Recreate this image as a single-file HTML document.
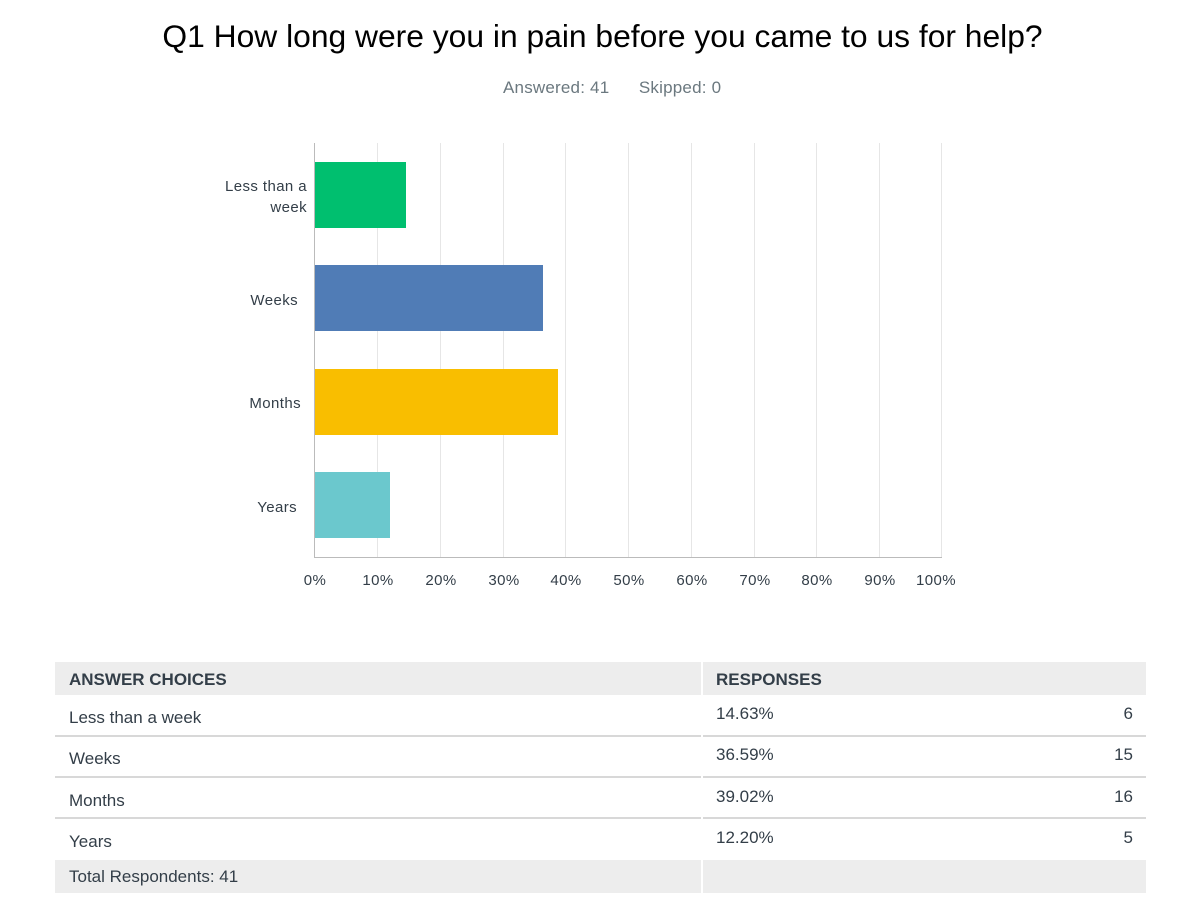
<!DOCTYPE html>
<html><head><meta charset="utf-8"><style>
body{margin:0;width:1200px;height:923px;background:#fff;font-family:"Liberation Sans",sans-serif;position:relative;overflow:hidden;color:#333e48}
.a{position:absolute}
.t{white-space:nowrap}
</style></head><body>
<div class="a t" style="left:0;width:1205px;top:18px;text-align:center;font-size:31.8px;color:#000">Q1 How long were you in pain before you came to us for help?</div>
<div class="a t" style="left:503px;top:78px;font-size:17px;color:#6b787f;letter-spacing:0.2px">Answered: 41&nbsp;&nbsp;&nbsp;&nbsp;&nbsp;&nbsp;Skipped: 0</div>
<svg class="a" style="left:0;top:0" width="1200" height="600">
<g stroke="#e6e6e6" stroke-width="1">
<line x1="377.5" y1="143" x2="377.5" y2="557"/><line x1="440.5" y1="143" x2="440.5" y2="557"/><line x1="503.5" y1="143" x2="503.5" y2="557"/><line x1="565.5" y1="143" x2="565.5" y2="557"/><line x1="628.5" y1="143" x2="628.5" y2="557"/><line x1="691.5" y1="143" x2="691.5" y2="557"/><line x1="754.5" y1="143" x2="754.5" y2="557"/><line x1="816.5" y1="143" x2="816.5" y2="557"/><line x1="879.5" y1="143" x2="879.5" y2="557"/><line x1="941.5" y1="143" x2="941.5" y2="557"/>
</g>
<line x1="314.5" y1="143" x2="314.5" y2="558" stroke="#bbb"/>
<line x1="314" y1="557.5" x2="942" y2="557.5" stroke="#bbb"/>
<rect x="315" y="162" width="91" height="66" fill="#00bf6f"/>
<rect x="315" y="265" width="228" height="66" fill="#507cb6"/>
<rect x="315" y="369" width="243" height="66" fill="#f9be00"/>
<rect x="315" y="472" width="75" height="66" fill="#6bc8cd"/>
<g font-family="Liberation Sans, sans-serif" font-size="15" fill="#333e48" text-anchor="end" letter-spacing="0.4">
<text x="307" y="191">Less than a</text><text x="307" y="212">week</text>
<text x="298" y="305">Weeks</text><text x="301" y="408">Months</text><text x="297" y="512">Years</text>
</g>
<g font-family="Liberation Sans, sans-serif" font-size="15" fill="#333e48" text-anchor="middle" letter-spacing="0.4">
<text x="315" y="585">0%</text><text x="378" y="585">10%</text><text x="441" y="585">20%</text><text x="504" y="585">30%</text><text x="566" y="585">40%</text><text x="629" y="585">50%</text><text x="692" y="585">60%</text><text x="755" y="585">70%</text><text x="817" y="585">80%</text><text x="880" y="585">90%</text><text x="936" y="585">100%</text>
</g>
</svg>
<div class="a" style="left:55px;top:662px;width:646px;height:33px;background:#ededed"></div>
<div class="a" style="left:703px;top:662px;width:443px;height:33px;background:#ededed"></div>
<div class="a t" style="left:69px;top:670px;font-size:17px;font-weight:bold">ANSWER CHOICES</div>
<div class="a t" style="left:716px;top:670px;font-size:17px;font-weight:bold">RESPONSES</div>
<div class="a" style="left:55px;top:735px;width:646px;height:2px;background:#d8d8d8"></div><div class="a" style="left:703px;top:735px;width:443px;height:2px;background:#d8d8d8"></div>
<div class="a" style="left:55px;top:776px;width:646px;height:2px;background:#d8d8d8"></div><div class="a" style="left:703px;top:776px;width:443px;height:2px;background:#d8d8d8"></div>
<div class="a" style="left:55px;top:817px;width:646px;height:2px;background:#d8d8d8"></div><div class="a" style="left:703px;top:817px;width:443px;height:2px;background:#d8d8d8"></div>
<div class="a t" style="left:69px;top:708px;font-size:17px">Less than a week</div>
<div class="a t" style="left:69px;top:749px;font-size:17px">Weeks</div>
<div class="a t" style="left:69px;top:791px;font-size:17px">Months</div>
<div class="a t" style="left:69px;top:832px;font-size:17px">Years</div>
<div class="a t" style="left:716px;top:704px;font-size:17px">14.63%</div>
<div class="a t" style="left:716px;top:745px;font-size:17px">36.59%</div>
<div class="a t" style="left:716px;top:787px;font-size:17px">39.02%</div>
<div class="a t" style="left:716px;top:828px;font-size:17px">12.20%</div>
<div class="a t" style="right:67px;top:704px;font-size:17px">6</div>
<div class="a t" style="right:67px;top:745px;font-size:17px">15</div>
<div class="a t" style="right:67px;top:787px;font-size:17px">16</div>
<div class="a t" style="right:67px;top:828px;font-size:17px">5</div>
<div class="a" style="left:55px;top:860px;width:646px;height:33px;background:#ededed"></div>
<div class="a" style="left:703px;top:860px;width:443px;height:33px;background:#ededed"></div>
<div class="a t" style="left:69px;top:867px;font-size:17px">Total Respondents: 41</div>
</body></html>
